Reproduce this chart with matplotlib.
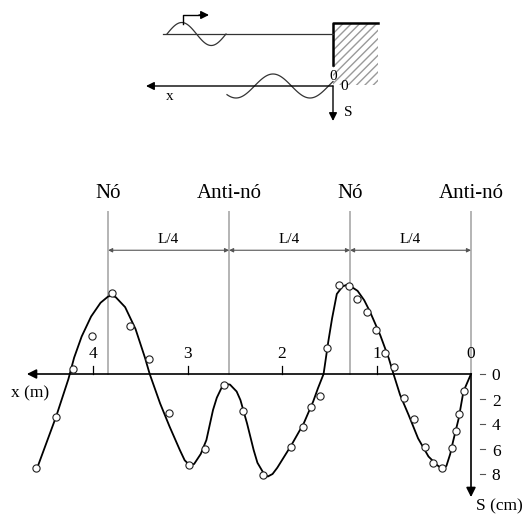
import numpy as np
import matplotlib
matplotlib.use("Agg")
import matplotlib.pyplot as plt
from matplotlib.patches import Rectangle

plt.rcParams['font.family'] = ['Liberation Serif', 'DejaVu Serif']

# measured points: position x (m) and displacement S (cm), S positive downward
x_meas = [4.60, 4.39, 4.21, 4.01, 3.80, 3.61, 3.41, 3.20, 2.98, 2.82, 2.61, 2.41,
          2.20, 1.90, 1.78, 1.69, 1.60, 1.52, 1.40, 1.29, 1.21, 1.10, 1.01, 0.91,
          0.81, 0.71, 0.60, 0.49, 0.40, 0.31, 0.20, 0.16, 0.13, 0.07]
s_meas = [7.5, 3.4, -0.4, -3.05, -6.45, -3.85, -1.2, 3.1, 7.3, 6.0, 0.87, 2.92,
          8.08, 5.85, 4.2, 2.6, 1.77, -2.12, -7.12, -7.08, -6.0, -4.98, -3.5, -1.66,
          -0.58, 1.93, 3.6, 5.8, 7.08, 7.5, 5.9, 4.52, 3.17, 1.37]

# fitted curve through the measurements
x_fit = [4.58, 4.39, 4.26, 4.20, 4.12, 4.02, 3.92, 3.84, 3.80, 3.76, 3.66, 3.55,
         3.45, 3.40, 3.29, 3.19, 3.08, 3.03, 2.98, 2.93, 2.86, 2.80, 2.73, 2.69,
         2.63, 2.59, 2.55, 2.48, 2.44, 2.37, 2.30, 2.26, 2.19, 2.15, 2.10, 2.05,
         1.90, 1.77, 1.67, 1.62, 1.56, 1.51, 1.47, 1.42, 1.36, 1.32, 1.28, 1.20,
         1.13, 1.07, 0.96, 0.87, 0.82, 0.75, 0.66, 0.56, 0.45, 0.36, 0.32, 0.29,
         0.26, 0.22, 0.19, 0.13, 0.08, 0.0]
s_fit = [7.3, 3.4, 0.4, -1.3, -3.0, -4.6, -5.7, -6.2, -6.26, -6.15, -5.35, -3.6,
         -1.3, 0.0, 2.35, 4.2, 6.1, 6.9, 7.28, 7.2, 6.4, 5.28, 2.88, 1.9,
         0.95, 0.8, 0.85, 1.4, 2.08, 3.95, 6.08, 7.1, 8.0, 8.2, 8.0, 7.5,
         5.68, 3.95, 2.2, 1.15, 0.0, -2.6, -4.45, -6.4, -7.0, -7.12, -7.05, -6.65,
         -5.9, -5.0, -3.1, -1.25, 0.0, 1.68, 3.28, 5.15, 6.6, 7.28, 7.5, 7.55,
         7.35, 6.4, 5.4, 3.55, 1.4, 0.0]

x_ticks = [4, 3, 2, 1, 0]
s_ticks = [0, 2, 4, 6, 8]

quarter = 1.28  # L/4 in metres
guide_x = [3 * quarter, 2 * quarter, quarter, 0.0]
guide_names = ['Nó', 'Anti-nó', 'Nó', 'Anti-nó']

fig = plt.figure(figsize=(5.28, 5.18), dpi=100)

# main chart axes: x grows to the left, S grows downward
ax = fig.add_axes([0, 0, 1, 1])
ax.set_xlim(471 / 94.5, -57 / 94.5)
ax.set_ylim((518 - 374) / 12.5, -374 / 12.5)
ax.axis('off')

# node / antinode guide lines
for gx, name in zip(guide_x, guide_names):
    ax.plot([gx, gx], [-12.95, 0], color='#b4b4b4', lw=1.4, zorder=1)
    ax.text(gx, -14.4, name, ha='center', va='center', fontsize=15)

# L/4 spacing arrows
for a, b in zip(guide_x[:-1], guide_x[1:]):
    ax.annotate('', xy=(b, -9.9), xytext=(a, -9.9),
                arrowprops=dict(arrowstyle='<|-|>', color='#555555', lw=0.8,
                                mutation_scale=6, shrinkA=0, shrinkB=0))
    ax.text((a + b) / 2, -10.25, 'L/4', ha='center', va='bottom', fontsize=11)

# x axis with arrow to the left
ax.annotate('', xy=(4.70, 0), xytext=(0, 0),
            arrowprops=dict(arrowstyle='-|>', color='black', lw=1.2,
                            mutation_scale=14, shrinkA=0, shrinkB=0))
for t in x_ticks:
    if t > 0:
        ax.plot([t, t], [0, -0.65], color='black', lw=0.9)
    ax.text(t, -0.95, str(t), ha='center', va='bottom', fontsize=12.5)
ax.text(4.67, 1.55, 'x (m)', ha='center', va='center', fontsize=12.5)

# S axis pointing down
ax.annotate('', xy=(0, 9.85), xytext=(0, 0),
            arrowprops=dict(arrowstyle='-|>', color='black', lw=1.2,
                            mutation_scale=14, shrinkA=0, shrinkB=0))
for t in s_ticks:
    ax.plot([-0.10, -0.15], [t, t], color='#555555', lw=0.8)
    ax.text(-0.22, t + 0.2, str(t), ha='left', va='center', fontsize=12.5)
ax.text(-0.30, 10.6, 'S (cm)', ha='center', va='center', fontsize=12.5)

# fitted wave and measured points
ax.plot(x_fit, s_fit, color='black', lw=1.3, zorder=3, solid_joinstyle='round')
ax.plot(x_meas, s_meas, 'o', ms=5.2, mfc='white', mec='#222222', mew=0.8, zorder=4)

# schematic of the incident and reflected wave, in pixel units
sk = fig.add_axes([0, 0, 1, 1])
sk.set_xlim(0, 528)
sk.set_ylim(518, 0)
sk.axis('off')

sk.add_patch(Rectangle((333, 23), 45, 62, fill=False, hatch='////',
                       edgecolor='#9a9a9a', lw=0))
sk.plot([333, 333, 378], [65, 23, 23], color='black', lw=1.8)
sk.plot([163, 333], [34, 34], color='#333333', lw=0.9)

px = np.linspace(167, 226, 60)
sk.plot(px, 34 - 11.5 * np.sin(2 * np.pi * (px - 167) / 59), color='#333333', lw=0.9)
sk.plot([183, 183, 200], [24, 15, 15], color='black', lw=1.0)
sk.annotate('', xy=(209, 15), xytext=(199, 15),
            arrowprops=dict(arrowstyle='-|>', color='black', lw=1.0,
                            mutation_scale=12, shrinkA=0, shrinkB=0))

sk.annotate('', xy=(146, 86), xytext=(333, 86),
            arrowprops=dict(arrowstyle='-|>', color='black', lw=1.0,
                            mutation_scale=12, shrinkA=0, shrinkB=0))
rx = np.linspace(227, 333, 100)
sk.plot(rx, 86 - 12 * np.sin(2 * np.pi * (rx - 254.5) / 74), color='#333333', lw=0.9)
sk.annotate('', xy=(333, 121), xytext=(333, 86),
            arrowprops=dict(arrowstyle='-|>', color='black', lw=1.0,
                            mutation_scale=12, shrinkA=0, shrinkB=0))
sk.text(170, 97, 'x', ha='center', va='center', fontsize=11)
sk.text(333, 76, '0', ha='center', va='center', fontsize=11)
sk.text(344, 87, '0', ha='center', va='center', fontsize=11)
sk.text(348, 113, 'S', ha='center', va='center', fontsize=11)

fig.savefig('out.png', dpi=100)
